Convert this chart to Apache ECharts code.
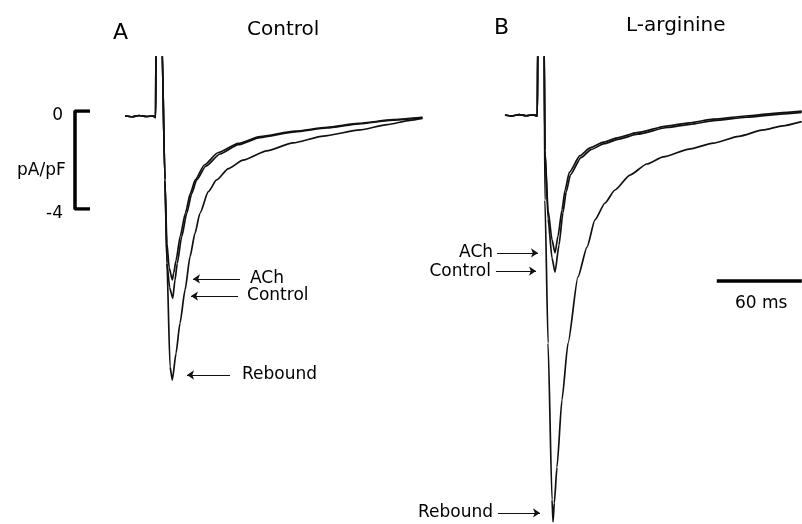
<!DOCTYPE html>
<html>
<head>
<meta charset="utf-8">
<script src="https://cdn.jsdelivr.net/npm/echarts@6/dist/echarts.min.js"></script>
<style>
  html, body { margin: 0; padding: 0; background: #fff; }
  #chart { width: 802px; height: 524px; }
</style>
</head>
<body>
<div id="chart"></div>
<script>
// time in ms, current in pA/pF
// shared start of each trace: baseline, then the stimulus artefact (goes off the top)
const onsetA = [[0, 0], [5, -0.03], [10, 0.02], [15, -0.02], [20, 0], [21.6, -0.06], [21.9, 3.2], [26.0, 3.2]];
const onsetB = [[0, 0.04], [5, 0], [10, 0.06], [15, 0.01], [20, 0.05], [22.8, 0], [23.2, 3.2], [27.6, 3.2]];

// panel A - Control
const achA = [[28.2, -2.61], [29.6, -5.2], [31.2, -6.2], [33.4, -6.69], [34.4, -6.4], [36.0, -5.9], [39.0, -4.9],
  [42.6, -3.97], [46.1, -3.16], [49.6, -2.61], [56, -2.0], [65.6, -1.5], [80, -1.12], [95.3, -0.84], [120, -0.62],
  [142.6, -0.46], [165, -0.3], [189.2, -0.15], [210, -0.06]];
const controlA = [[28.2, -2.61], [29.6, -6.0], [31.5, -7.0], [33.7, -7.44], [35.3, -6.69], [36.9, -6.01], [40.0, -4.93],
  [43.6, -3.97], [47.1, -3.16], [50.6, -2.61], [57, -2.05], [67.1, -1.55], [80, -1.17], [95.3, -0.88], [120, -0.65],
  [142.6, -0.49], [165, -0.32], [189.2, -0.17], [210, -0.07]];
const reboundA = [[28.2, -2.61], [29.6, -6.0], [31.8, -10.24], [33.4, -10.78], [36.0, -9.69], [38.8, -8.46],
  [42.4, -7.1], [45.9, -5.74], [49.4, -4.79], [52.9, -3.97], [58.8, -3.09], [64.7, -2.61], [73, -2.15], [83.3, -1.8],
  [100, -1.42], [118.6, -1.1], [140, -0.82], [165.9, -0.57], [185, -0.35], [201.2, -0.18], [210, -0.1]];

// panel B - L-arginine
const achB = [[28.2, -1.39], [30.4, -3.84], [33.2, -5.06], [35.3, -5.59], [37.4, -4.9], [40.2, -3.84], [42.4, -3.02],
  [45.4, -2.3], [52.9, -1.62], [60, -1.3], [69.4, -1.07], [80, -0.88], [93, -0.68], [114.1, -0.41],
  [130, -0.28], [147, -0.13], [170, 0], [194, 0.13], [209.4, 0.2]];
const controlB = [[28.2, -1.39], [30.4, -4.2], [33.2, -5.8], [35.3, -6.37], [38.1, -5.27], [40.9, -3.95], [43.2, -3.1],
  [46.2, -2.4], [53.6, -1.7], [60.7, -1.37], [70, -1.13], [80.6, -0.94], [93.6, -0.74], [114.7, -0.47],
  [130.6, -0.34], [147.6, -0.19], [170.6, -0.05], [194.6, 0.08], [209.4, 0.15]];
const reboundB = [[28.2, -3.43], [30.4, -9.27], [33.2, -15.67], [33.9, -16.57], [34.8, -15.8], [36.7, -14.33],
  [40.2, -11.59], [44.5, -9.27], [51.5, -6.57], [57.9, -5.35], [63.5, -4.24], [70.6, -3.55], [77.6, -3.02],
  [88.2, -2.41], [100.2, -1.96], [111.7, -1.67], [130, -1.35], [147, -1.11], [165, -0.83], [182.3, -0.57],
  [196, -0.4], [209.4, -0.23]];

// arrow labels: [label, arrow tail t, arrow head t, level, label gap]
const arrowsA = [['ACh', 81.2, 48.0, -6.65, 10], ['Control', 79.8, 46.6, -7.35, 9], ['Rebound', 74.1, 43.8, -10.57, 12]];
const arrowsB = [['ACh', -5.6, 23.3, -5.59, 4], ['Control', -6.4, 21.9, -6.33, 5], ['Rebound', -4.9, 24.7, -16.2, 5]];

// scale bars
const ampBar = [[1, 0], [0, 0], [0, -4], [1, -4]];
const ampTicks = [0, -4];
const timeBar = [[149.5, -6.73], [209.5, -6.73]];

const font = 'DejaVu Sans';
const pxPerMs = 1.4167;
const pxPerUnit = 24.5;
const yMax = 2.4, yMin = -16.6;
const xMaxB = 209.6;

function trace(grid, onset, pts) {
  return {
    type: 'line', xAxisIndex: grid, yAxisIndex: grid,
    data: onset.concat(pts), showSymbol: false, clip: true,
    smooth: 0.2, smoothMonotone: 'x',
    lineStyle: { color: '#111', width: 1.7 }
  };
}

function arrows(grid, list) {
  return {
    type: 'line', xAxisIndex: grid, yAxisIndex: grid, data: [], clip: false,
    markLine: {
      silent: true, animation: false,
      symbol: ['none', 'arrow'], symbolSize: 7,
      lineStyle: { color: '#111', width: 1, type: 'solid' },
      label: { show: true, position: 'start', color: '#000', fontFamily: font, fontSize: 17 },
      data: list.map(a => [
        { coord: [a[1], a[3]], name: a[0], label: { formatter: a[0], distance: a[4] } },
        { coord: [a[2], a[3]] }
      ])
    }
  };
}

const hiddenAxis = { show: false, type: 'value' };
const titleText = { fontFamily: font, fontWeight: 'normal', color: '#000' };

const chart = echarts.init(document.getElementById('chart'));
chart.setOption({
  animation: false,
  backgroundColor: '#fff',
  title: [
    { text: 'A', left: 113, top: 22, padding: 0, textStyle: Object.assign({ fontSize: 22 }, titleText) },
    { text: 'Control', left: 247, top: 20, padding: 0, textStyle: Object.assign({ fontSize: 20 }, titleText) },
    { text: 'B', left: 494, top: 17, padding: 0, textStyle: Object.assign({ fontSize: 22 }, titleText) },
    { text: 'L-arginine', left: 626, top: 16, padding: 0, textStyle: Object.assign({ fontSize: 20 }, titleText) },
    { text: 'pA/pF', left: 17, top: 162, padding: 0, textStyle: Object.assign({ fontSize: 17 }, titleText) },
    { text: '60 ms', left: 735, top: 295, padding: 0, textStyle: Object.assign({ fontSize: 17 }, titleText) }
  ],
  grid: [
    { left: 125, top: 116 - yMax * pxPerUnit, width: 212 * pxPerMs, height: (yMax - yMin) * pxPerUnit },
    { left: 505 - 40 * pxPerMs, top: 116 - yMax * pxPerUnit, width: (xMaxB + 40) * pxPerMs, height: (yMax - yMin) * pxPerUnit },
    { left: 75, top: 111, width: 15, height: 4 * pxPerUnit }
  ],
  xAxis: [
    Object.assign({ gridIndex: 0, min: 0, max: 212 }, hiddenAxis),
    Object.assign({ gridIndex: 1, min: -40, max: xMaxB }, hiddenAxis),
    Object.assign({ gridIndex: 2, min: 0, max: 1 }, hiddenAxis)
  ],
  yAxis: [
    Object.assign({ gridIndex: 0, min: yMin, max: yMax }, hiddenAxis),
    Object.assign({ gridIndex: 1, min: yMin, max: yMax }, hiddenAxis),
    {
      gridIndex: 2, type: 'value', min: ampTicks[1], max: ampTicks[0], interval: 4,
      axisLine: { show: false }, axisTick: { show: false }, splitLine: { show: false },
      axisLabel: {
        margin: 12,
        formatter: '{a|{value}}',
        rich: { a: { fontFamily: font, fontSize: 17, color: '#000', padding: [9, 0, 0, 0] } }
      }
    }
  ],
  series: [
    trace(0, onsetA, reboundA),
    trace(0, onsetA, controlA),
    trace(0, onsetA, achA),
    trace(1, onsetB, reboundB),
    trace(1, onsetB, controlB),
    trace(1, onsetB, achB),
    arrows(0, arrowsA),
    arrows(1, arrowsB),
    {
      type: 'line', xAxisIndex: 2, yAxisIndex: 2, data: ampBar, showSymbol: false,
      lineStyle: { color: '#000', width: 3.5 }
    },
    {
      type: 'line', xAxisIndex: 1, yAxisIndex: 1, data: timeBar, showSymbol: false,
      lineStyle: { color: '#000', width: 3.5 }
    }
  ]
});
</script>
</body>
</html>
